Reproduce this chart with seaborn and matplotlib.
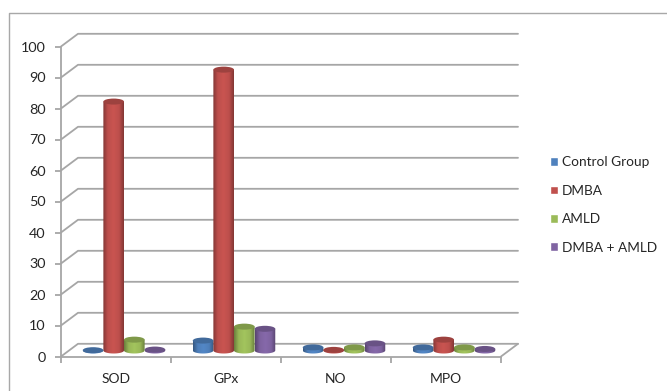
import numpy as np
import pandas as pd
import seaborn as sns
import matplotlib.pyplot as plt
from matplotlib.colors import LinearSegmentedColormap, to_rgb
from matplotlib.lines import Line2D
from matplotlib.patches import Ellipse
from matplotlib.path import Path
from matplotlib.transforms import Affine2D

categories = ["SOD", "GPx", "NO", "MPO"]
control_group = [0.1, 3.2, 1.0, 1.0]
dmba = [80.3, 90.6, 0.2, 3.5]
amld = [3.5, 7.7, 1.0, 1.0]
dmba_amld = [0.3, 7.0, 2.3, 0.5]
series_names = ["Control Group", "DMBA", "AMLD", "DMBA + AMLD"]
series_colors = ["#4f81bd", "#c0504d", "#9bbb59", "#8064a2"]
y_ticks = list(range(0, 101, 10))

W, H = 667, 391
DEPTH_X, DEPTH_Y = 17, 12.7    # wall offset in pixels
BAR_DX, BAR_DY = 8, 6          # cylinders stand mid-way across the floor
GRID = "#a6a6a6"
TEXT = "#262626"

sns.set_theme(style="white")
plt.rcParams["font.family"] = ["Lato", "DejaVu Sans"]

df = pd.DataFrame({"group": categories, "Control Group": control_group, "DMBA": dmba,
                   "AMLD": amld, "DMBA + AMLD": dmba_amld})
long = df.melt("group", var_name="series", value_name="value")

fig = plt.figure(figsize=(W / 100, H / 100), dpi=100)
ax = fig.add_axes([61 / W, 34.5 / H, 440 / W, 310 / H])
ax.patch.set_alpha(0)
sns.barplot(data=long, x="group", y="value", hue="series", hue_order=series_names,
            palette=series_colors, order=categories, width=0.75, gap=0, saturation=1,
            ax=ax, legend=True, zorder=3)
ax.set_xlim(-0.5, 3.5)
ax.set_ylim(0, 100)

# Chart frame: only the left and top edges fall inside the canvas
fig.add_artist(Line2D([8.5 / W, 8.5 / W, 1], [0, 1 - 13 / H, 1 - 13 / H],
                      transform=fig.transFigure, color="#a8a8a8", lw=1))

# Back wall gridlines and floor edge
x_per_px = 1 / 440
y_per_px = 1 / 310
for v in y_ticks:
    f = v / 100
    ax.plot([0, DEPTH_X * x_per_px, 1 + DEPTH_X * x_per_px],
            [f, f + DEPTH_Y * y_per_px, f + DEPTH_Y * y_per_px],
            transform=ax.transAxes, color=GRID, lw=1.3, clip_on=False, zorder=1)
ax.plot([1, 1 + DEPTH_X * x_per_px], [0, DEPTH_Y * y_per_px],
        transform=ax.transAxes, color=GRID, lw=1.3, clip_on=False, zorder=1)

# Axis styling
for name in ["top", "right"]:
    ax.spines[name].set_visible(False)
for name in ["left", "bottom"]:
    ax.spines[name].set_color(GRID)
    ax.spines[name].set_linewidth(1.3)
ax.set_xlabel("")
ax.set_ylabel("")
ax.set_yticks(y_ticks)
ax.set_xticks(np.arange(-0.5, 4, 1), minor=True)
ax.tick_params(axis="x", which="major", length=0, pad=12, labelsize=10, labelcolor=TEXT)
ax.tick_params(axis="x", which="minor", length=4, width=1.3, color=GRID, bottom=True)
ax.tick_params(axis="y", length=4, width=1.3, color=GRID, left=True, pad=7,
               labelsize=10.4, labelcolor=TEXT)

# Legend with square swatches on the right
handles, labels = ax.get_legend_handles_labels()
ax.get_legend().remove()
fig.legend(handles, labels, loc="center left", bbox_to_anchor=(549.5 / W, 1 - 205 / H),
           frameon=False, fontsize=9.8, labelcolor=TEXT, handlelength=0.62, handleheight=0.62,
           handletextpad=0.28, labelspacing=1.2, borderpad=0, borderaxespad=0)

# Shade each bar as a cylinder: horizontal gradient body with elliptical caps
shift = ax.transData + Affine2D().translate(BAR_DX, BAR_DY)
cap_h = 6 * y_per_px * 100
bars = [p for p in ax.patches if p.get_width() > 0]
for bar in bars:
    x0, w, top = bar.get_x(), bar.get_width(), bar.get_height()
    base = np.array(to_rgb(bar.get_facecolor()))
    bar.set_visible(False)
    cx = x0 + w / 2
    stops = [(0.0, base * 0.68), (0.22, base * 0.98), (0.5, np.minimum(base * 1.05, 1)),
             (0.78, base * 0.98), (1.0, base * 0.68)]
    cmap = LinearSegmentedColormap.from_list("cyl", stops)
    t = np.linspace(np.pi, 2 * np.pi, 30)
    xs = np.r_[cx + w / 2 * np.cos(t), x0 + w, x0, x0]
    ys = np.r_[cap_h / 2 * np.sin(t), top, top, 0]
    body = Path(np.column_stack([xs, ys]))
    im = ax.imshow(np.linspace(0, 1, 64)[None, :], cmap=cmap, aspect="auto",
                   extent=(x0, x0 + w, -cap_h, top), zorder=3)
    im.set_transform(shift)
    im.set_clip_path(body, shift)
    ax.add_patch(Ellipse((cx, top), w, cap_h, transform=shift, fc=base * 0.82, ec="none",
                         zorder=4, clip_on=False))
ax.set_xlim(-0.5, 3.5)
ax.set_ylim(0, 100)

fig.savefig("out.png", dpi=100, facecolor="white")
